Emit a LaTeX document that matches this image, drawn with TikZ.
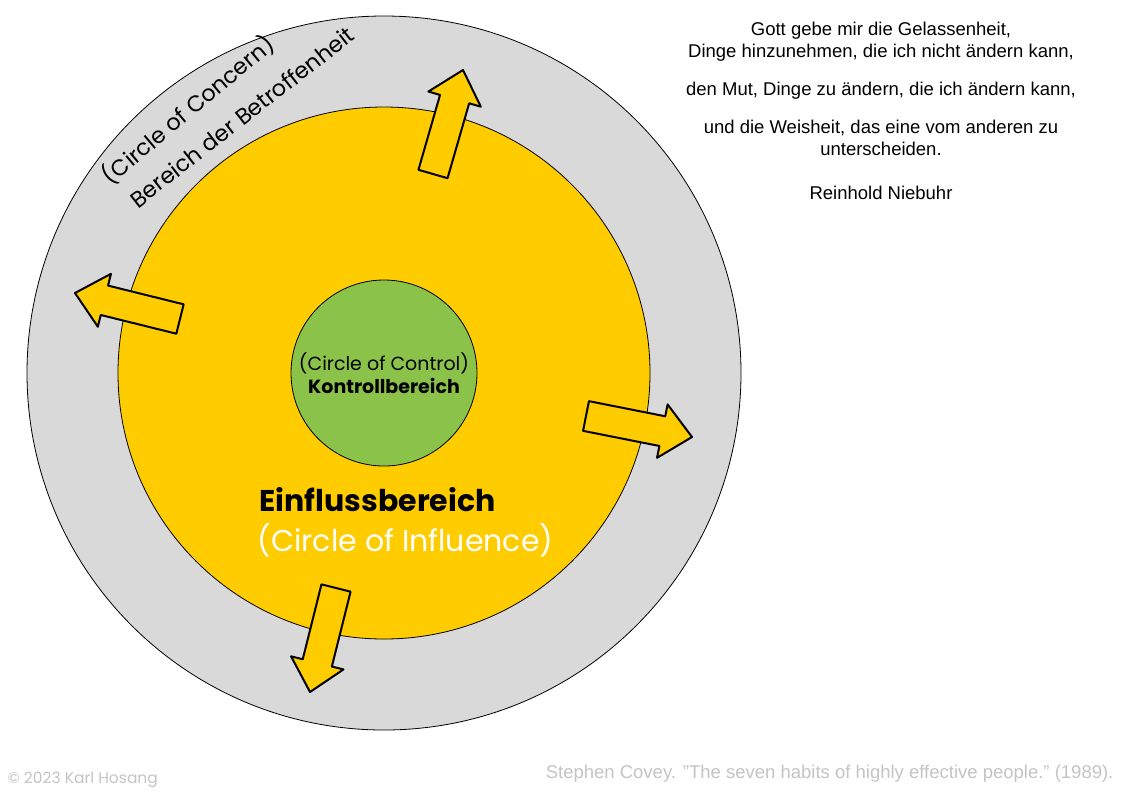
\documentclass[tikz,border=0pt]{standalone}
\usepackage{fontspec}
\setmainfont{Liberation Sans}
\newfontfamily\qfont{Poppins}
\usetikzlibrary{calc}
\definecolor{concern}{HTML}{D9D9D9}
\definecolor{influence}{HTML}{FFCC00}
\definecolor{control}{HTML}{8BC34A}
\definecolor{foot}{HTML}{C4C4C4}
\tikzset{
  ring/.style={draw=black, line width=0.8pt},
  blockarrow/.style={draw=black, fill=influence, line width=2pt, line join=round},
  quote/.style={font=\fontsize{18.5}{22}\selectfont, align=center, text=black},
  footer/.style={text=foot, font=\fontsize{18.5}{21}\selectfont}
}
\newcommand{\blockarr}[2]{%
  \coordinate (A) at #1; \coordinate (B) at #2;
  \coordinate (H) at ($(A)!0.72!(B)$);
  \draw[blockarrow] ($(A)!0.14!90:(B)$) -- ($(H)!0.5!90:(B)$) -- ($(H)!0.9!90:(B)$) -- (B)
     -- ($(H)!0.9!-90:(B)$) -- ($(H)!0.5!-90:(B)$) -- ($(A)!0.14!-90:(B)$) -- cycle;}
\begin{document}
\begin{tikzpicture}[x=1pt,y=-1pt]
\useasboundingbox[fill=white] (0,0) rectangle (1121,793);
\coordinate (C) at (384,373);
\draw[ring, fill=concern] (C) circle (357);
\draw[ring, fill=influence] (C) circle (266);
\node[ring, fill=control, circle, minimum size=186] (ctrl) at (C) {};
\blockarr{(433,174)}{(463,70)}
\blockarr{(180,319)}{(75,293)}
\blockarr{(586,416)}{(692,437)}
\blockarr{(336,588)}{(310,692)}
\node[font=\qfont\fontsize{19}{23}\selectfont, align=center] (ctrltxt) at (384,373) {(Circle of Control)\\\textbf{Kontrollbereich}};
\node[font=\qfont\fontsize{22.5}{25}\selectfont, rotate=40, inner sep=0pt] (concern1) at (188,110) {(Circle of Concern)};
\node[font=\qfont\fontsize{22.5}{25}\selectfont, rotate=38, inner sep=0pt] (concern2) at (242,117) {Bereich der Betroffenheit};
\node[font=\qfont\bfseries\fontsize{30}{33}\selectfont, anchor=west] (infl1) at (256,500) {Einflussbereich};
\node[font=\qfont\fontsize{30}{33}\selectfont, anchor=west, text=white] (infl2) at (254,540) {(Circle of Influence)};
\node[quote] (q1) at (881,42) {Gott gebe mir die Gelassenheit,\\Dinge hinzunehmen, die ich nicht ändern kann,};
\node[quote] (q2) at (881,91) {den Mut, Dinge zu ändern, die ich ändern kann,};
\node[quote] (q3) at (881,138) {und die Weisheit, das eine vom anderen zu\\unterscheiden.};
\node[quote] (q4) at (881,193) {Reinhold Niebuhr};
\node[footer, font=\qfont\fontsize{15.5}{18}\selectfont, anchor=west] (copy) at (4,780) {© 2023 Karl Hosang};
\node[footer, anchor=east] (src) at (1117,774) {Stephen Covey. "The seven habits of highly effective people." (1989).};
\end{tikzpicture}
\end{document}
